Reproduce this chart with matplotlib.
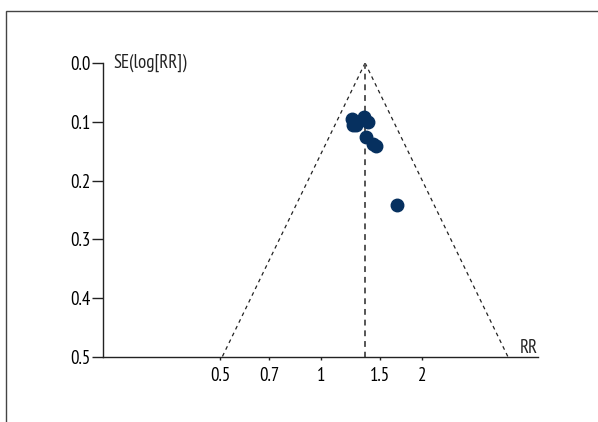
import numpy as np
import matplotlib.pyplot as plt
from matplotlib.patches import Rectangle

plt.rcParams['font.family'] = ['PT Sans Narrow', 'DejaVu Sans']

# study estimates: relative risk and standard error of log(RR)
rr = [1.231, 1.244, 1.270, 1.344, 1.382, 1.357, 1.430, 1.454, 1.686]
se = [0.096, 0.105, 0.105, 0.091, 0.100, 0.126, 0.137, 0.142, 0.241]
pooled_rr = 1.351
x_ticks = [0.5, 0.7, 1, 1.5, 2]
x_tick_labels = ['0.5', '0.7', '1', '1.5', '2']
y_ticks = [0.0, 0.1, 0.2, 0.3, 0.4, 0.5]

fs = 13.5

fig = plt.figure(figsize=(5.98, 4.22), dpi=100)
# outer frame, cut off at right and bottom
fig.patches.append(Rectangle((6 / 598, -0.1), 1.2, 1 - 11 / 422 + 0.1,
                             transform=fig.transFigure, fill=False,
                             edgecolor='#444444', linewidth=1.0))

ax = fig.add_axes([103 / 598, 1 - 357 / 422, 435 / 598, 294 / 422])

# funnel: 95% pseudo confidence limits around the pooled estimate
se_line = np.array([0.0, 0.5])
lo = np.exp(np.log(pooled_rr) - 1.96 * se_line)
hi = np.exp(np.log(pooled_rr) + 1.96 * se_line)
ax.plot(lo, se_line, color='#222222', linestyle=(0, (3, 3)), linewidth=0.9)
ax.plot(hi, se_line, color='#222222', linestyle=(0, (3, 3)), linewidth=0.9)
ax.plot([pooled_rr, pooled_rr], [0, 0.5], color='#555555',
        linestyle=(0, (3, 2.5)), linewidth=1.4)

ax.plot(rr, se, 'o', color='#06305f', markersize=9, zorder=3)

ax.set_xscale('log')
ax.set_xlim(0.224, 4.42)
ax.set_ylim(0.5, 0.0)
ax.set_xticks(x_ticks)
ax.set_xticklabels(x_tick_labels)
ax.minorticks_off()
ax.set_yticks(y_ticks)
ax.set_yticklabels([f'{v:.1f}' for v in y_ticks])

for side in ['top', 'right']:
    ax.spines[side].set_visible(False)
for side in ['left', 'bottom']:
    ax.spines[side].set_color('#222222')
    ax.spines[side].set_linewidth(1.0)
ax.tick_params(axis='y', length=8, width=1.0, color='#222222', labelsize=fs, pad=1)
ax.tick_params(axis='x', length=2.5, width=1.0, color='#222222', labelsize=fs, pad=5)

ax.text(0.025, 0.0, 'SE(log[RR])', transform=ax.get_yaxis_transform(),
        ha='left', va='center', fontsize=fs, color='#222222')
ax.text(4.4, 0.5, 'RR', ha='right', va='bottom', fontsize=fs, color='#222222')

plt.savefig('out.png', dpi=100)
